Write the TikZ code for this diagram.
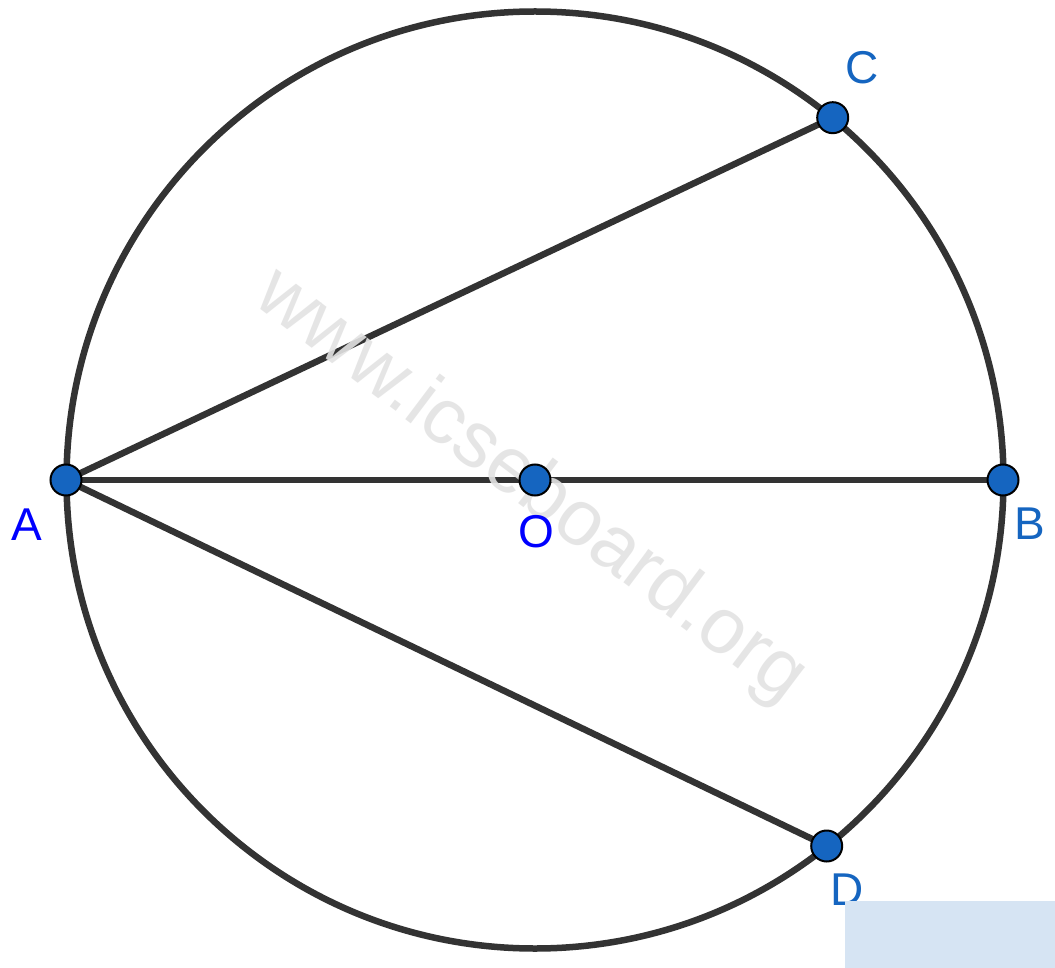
\documentclass[tikz,border=0pt]{standalone}
\usepackage{fontspec}
\setmainfont{Liberation Sans}
\definecolor{linegrey}{HTML}{333333}
\definecolor{dotblue}{HTML}{1565C0}
\definecolor{wmgrey}{HTML}{E3E3E3}
\definecolor{boxblue}{HTML}{D6E4F3}
\begin{document}
\begin{tikzpicture}[x=1pt,y=-1pt,
  seg/.style={draw=linegrey,line width=6.5pt},
  pt/.style={circle,fill=dotblue,draw=black,line width=2pt,minimum size=31pt,inner sep=0pt},
  lblA/.style={text=blue,font=\fontsize{46}{46}\selectfont,inner sep=0pt},
  lblB/.style={text=dotblue,font=\fontsize{46}{46}\selectfont,inner sep=0pt}]
\useasboundingbox (0,0) rectangle (1055,968);
\fill[white] (0,0) rectangle (1055,968);
\coordinate (O) at (535,480);
\coordinate (A) at (66,480);
\coordinate (B) at (1003,480);
\coordinate (C) at (832.7,117.7);
\coordinate (D) at (826.7,846);
\draw[linegrey,line width=6.5pt] (O) circle[radius=468.5];
\draw[seg] (A) -- (C);
\draw[seg] (A) -- (D);
\draw[seg] (A) -- (B);
\node[text=wmgrey,rotate=-37,font=\fontsize{79}{79}\selectfont,inner sep=0pt,opacity=0.9] (wm) at (530,487) {www.icseboard.org};
\node[pt] (pA) at (A) {};
\node[pt] (pB) at (B) {};
\node[pt] (pC) at (C) {};
\node[pt] (pD) at (D) {};
\node[pt] (pO) at (O) {};
\node[lblA] (lA) at (27,525) {A};
\node[lblA] (lO) at (536,532) {O};
\node[lblB] (lB) at (1030,524) {B};
\node[lblB] (lC) at (862,68) {C};
\node[lblB] (lD) at (847,890) {D};
\fill[boxblue] (845,901) rectangle (1055,968);
\end{tikzpicture}
\end{document}
